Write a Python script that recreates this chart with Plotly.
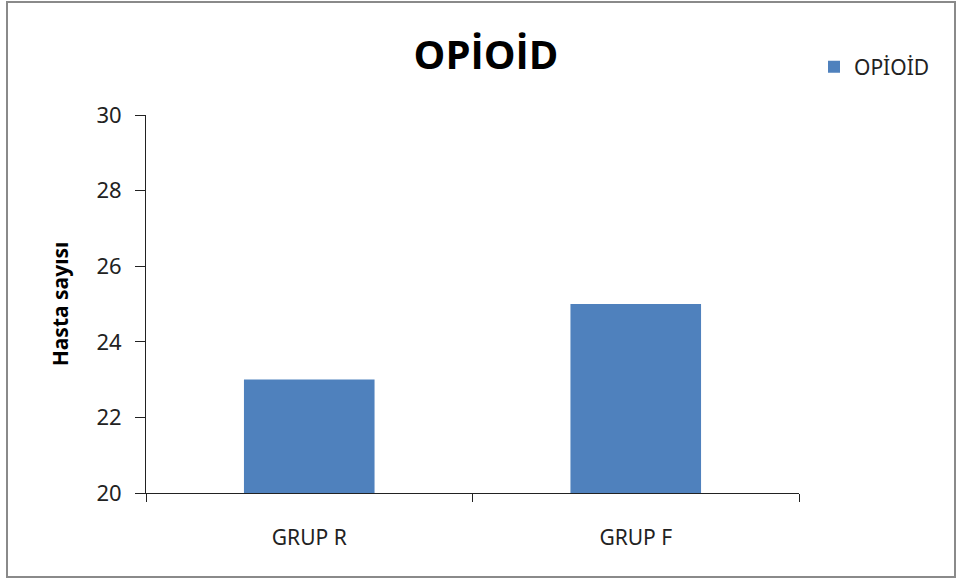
import plotly.graph_objects as go

# Chart data
groups = ["GRUP R", "GRUP F"]
opioid_counts = [23, 25]
series_name = "OPİOİD"
y_ticks = [20, 22, 24, 26, 28, 30]

L, R, T, B = 146, 161, 115, 87
W, H = 960, 580
pw, ph = W - L - R, H - T - B


def px_x(p):
    return (p - L) / pw


def px_y(p):
    return (H - B - p) / ph


fig = go.Figure()
fig.add_trace(go.Bar(
    x=groups,
    y=opioid_counts,
    name=series_name,
    marker=dict(color="#4F81BD", line=dict(width=0)),
    showlegend=True,
))

fig.update_layout(
    width=W,
    height=H,
    margin=dict(l=L, r=R, t=T, b=B),
    paper_bgcolor="white",
    plot_bgcolor="white",
    bargap=0.6,
    font=dict(family="Noto Sans", color="#222222"),
    title=dict(
        text="<b>OPİOİD</b>",
        x=486 / W,
        xanchor="center",
        y=1 - 55 / H,
        yanchor="middle",
        font=dict(family="Open Sans", size=40, color="black"),
    ),
    legend=dict(
        x=px_x(814),
        xanchor="left",
        y=px_y(67),
        yanchor="middle",
        font=dict(size=21, color="#222222"),
        bgcolor="rgba(0,0,0,0)",
        itemsizing="constant",
    ),
    xaxis=dict(
        showline=True,
        linecolor="#222222",
        linewidth=1,
        ticks="outside",
        tickson="boundaries",
        ticklen=8,
        tickcolor="#222222",
        tickfont=dict(size=21, color="#222222"),
        ticklabelstandoff=26,
        showgrid=False,
        zeroline=False,
    ),
    yaxis=dict(
        range=[20, 30],
        tickvals=y_ticks,
        showline=True,
        linecolor="#222222",
        linewidth=1,
        ticks="outside",
        ticklen=10,
        tickcolor="#222222",
        tickfont=dict(size=22, color="#222222"),
        ticklabelstandoff=9,
        showgrid=False,
        zeroline=False,
        title=dict(
            text="<b>Hasta sayısı</b>",
            font=dict(size=21, color="black"),
            standoff=22,
        ),
    ),
)

# Outer chart frame
fig.add_shape(
    type="rect",
    xref="paper", yref="paper",
    x0=px_x(7), x1=px_x(955),
    y0=px_y(577), y1=px_y(2),
    line=dict(color="#8a8a8a", width=2),
    fillcolor="rgba(0,0,0,0)",
    layer="below",
)

fig.write_html("out.html")
